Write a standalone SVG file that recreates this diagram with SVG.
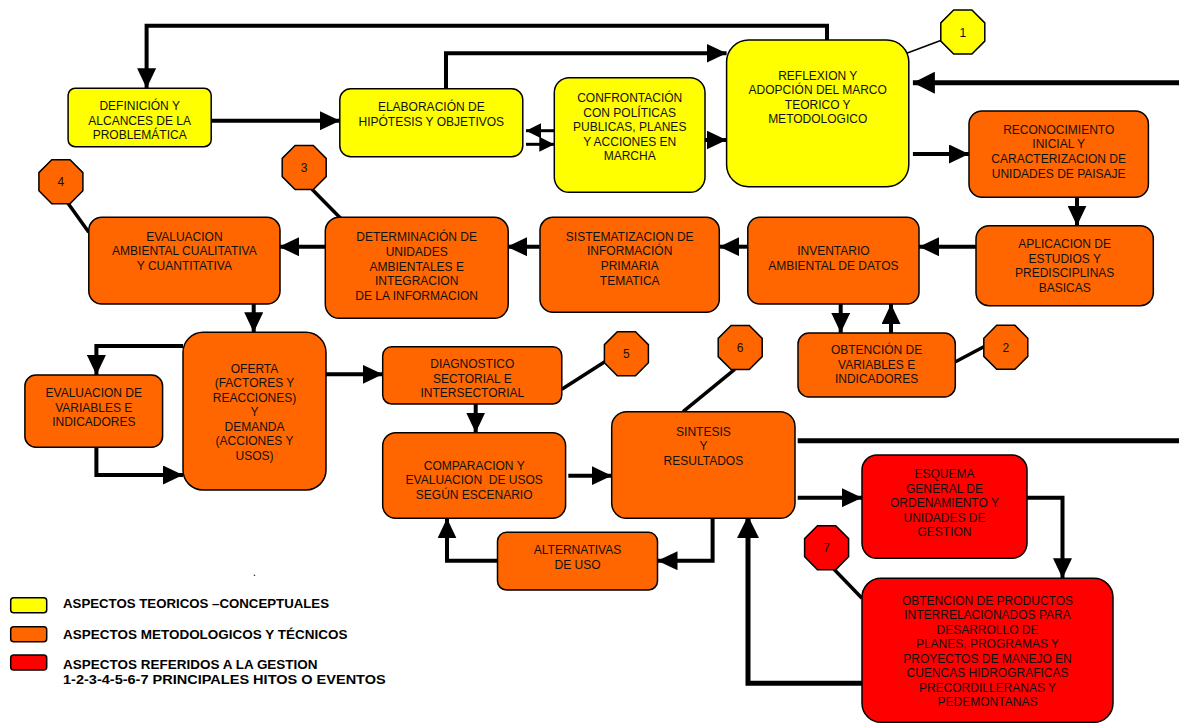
<svg xmlns="http://www.w3.org/2000/svg" width="1179" height="724" viewBox="0 0 1179 724">
<style>
.y{fill:#FFFF00;stroke:#000;stroke-width:1.5}
.o{fill:#FF6600;stroke:#000;stroke-width:1.5}
.r{fill:#FF0000;stroke:#000;stroke-width:1.5}
text{font-family:"Liberation Sans",Arial,sans-serif;font-size:12px;fill:#111;text-anchor:middle}
.lg{font-weight:bold;font-size:13.2px;text-anchor:start;fill:#000}
.num{font-size:12px}
.c{fill:none;stroke:#000;stroke-width:4}
.ct{fill:none;stroke:#000;stroke-width:5}
.cs{fill:none;stroke:#000;stroke-width:3}
.pin{fill:none;stroke:#000;stroke-width:3.5}
</style>
<defs>
<marker id="ah" markerUnits="userSpaceOnUse" markerWidth="20" markerHeight="19" refX="20" refY="9.5" orient="auto"><path d="M0,0 L20,9.5 L0,19 z" fill="#000"/></marker>
<marker id="ahb" markerUnits="userSpaceOnUse" markerWidth="22" markerHeight="22" refX="22" refY="11" orient="auto"><path d="M0,0 L22,11 L0,22 z" fill="#000"/></marker>
<marker id="ahs" markerUnits="userSpaceOnUse" markerWidth="15" markerHeight="15" refX="15" refY="7.5" orient="auto"><path d="M0,0 L15,7.5 L0,15 z" fill="#000"/></marker>
<polygon id="oct" points="-9.1,-22 9.1,-22 22,-9.1 22,9.1 9.1,22 -9.1,22 -22,9.1 -22,-9.1"/>
</defs>

<g id="connectors">
<path class="c" d="M827,40 V25.7 H146.6 V88.3" marker-end="url(#ah)"/>
<path class="c" d="M211,120.7 H340" marker-end="url(#ah)"/>
<path class="c" d="M446,88.7 V53.3 H726.6" marker-end="url(#ah)"/>
<path class="cs" d="M554.3,130.7 H526" marker-end="url(#ahs)"/>
<path class="cs" d="M526,144.3 H554.3" marker-end="url(#ahs)"/>
<path class="c" d="M705,140 H726.6" marker-end="url(#ah)"/>
<path class="ct" d="M1179,82.7 H912.9" marker-end="url(#ahb)"/>
<path class="c" d="M912.9,154 H969" marker-end="url(#ah)"/>
<path class="c" d="M1077,197.3 V225.7" marker-end="url(#ah)"/>
<path class="c" d="M976,246.7 H919" marker-end="url(#ah)"/>
<path class="c" d="M747.8,246.7 H719.3" marker-end="url(#ah)"/>
<path class="c" d="M539.6,246.7 H507" marker-end="url(#ah)"/>
<path class="c" d="M325.3,246.7 H279" marker-end="url(#ah)"/>
<path class="c" d="M253.7,304 V332.3" marker-end="url(#ah)"/>
<path class="c" d="M183,346 H96.4 V375" marker-end="url(#ah)"/>
<path class="c" d="M96.4,447.3 V475 H183" marker-end="url(#ah)"/>
<path class="c" d="M326,374.3 H382.7" marker-end="url(#ah)"/>
<path class="c" d="M475.7,404 V432.7" marker-end="url(#ah)"/>
<path class="c" d="M568.3,475.7 H611.7" marker-end="url(#ah)"/>
<path class="c" d="M840.7,304 V332.8" marker-end="url(#ah)"/>
<path class="c" d="M891,333.3 V304" marker-end="url(#ah)"/>
<path class="ct" d="M797.7,440.7 H1179"/>
<path class="c" d="M797.7,497.7 H862" marker-end="url(#ah)"/>
<path class="c" d="M1027,497.7 H1062.5 V578.3" marker-end="url(#ah)"/>
<path class="ct" d="M862,683.3 H748 V516" marker-end="url(#ahb)"/>
<path class="c" d="M712.6,518.3 V560.7 H657.5" marker-end="url(#ah)"/>
<path class="c" d="M497.5,560.7 H447 V518.3" marker-end="url(#ah)"/>
<path fill="none" stroke="#000" stroke-width="1.5" d="M942,40 L906.7,53.3"/>
<path class="pin" d="M983.8,346.7 L955.5,361.7"/>
<path class="pin" d="M312,189.3 L340.6,218.3"/>
<path class="pin" d="M68,203.3 L88.8,232.3"/>
<path class="pin" d="M604.8,361.7 L561.8,389.3"/>
<path class="pin" d="M734.7,369.3 L683.1,411.7"/>
<path class="pin" d="M834,569.3 L862,598.3"/>
</g>

<g id="definicion">
<rect class="y" x="68.1" y="88.3" width="143.1" height="58.4" rx="7"/>
<text x="139.7" y="110">DEFINICIÓN Y</text>
<text x="139.7" y="124.5">ALCANCES DE LA</text>
<text x="139.7" y="139">PROBLEMÁTICA</text>
</g>
<g id="elaboracion">
<rect class="y" x="339.8" y="88.7" width="183" height="68" rx="11"/>
<text x="431.3" y="111.2">ELABORACIÓN DE</text>
<text x="431.3" y="125.8">HIPÓTESIS Y OBJETIVOS</text>
</g>
<g id="confrontacion">
<rect class="y" x="554.3" y="77.7" width="150.7" height="114.6" rx="15"/>
<text x="629.7" y="101.8">CONFRONTACIÓN</text>
<text x="629.7" y="116.8">CON POLÍTICAS</text>
<text x="629.7" y="131.2">PUBLICAS, PLANES</text>
<text x="629.7" y="145.8">Y ACCIONES EN</text>
<text x="629.7" y="159.5">MARCHA</text>
</g>
<g id="reflexion">
<rect class="y" x="726.6" y="40" width="182.2" height="146.7" rx="22"/>
<text x="817.7" y="79.8">REFLEXION Y</text>
<text x="817.7" y="93.8">ADOPCIÓN DEL MARCO</text>
<text x="817.7" y="108.5">TEORICO Y</text>
<text x="817.7" y="123.2">METODOLOGICO</text>
</g>
<g id="hito1">
<use href="#oct" x="962.8" y="32" class="y"/>
<text class="num" x="962.8" y="36.5">1</text>
</g>
<g id="reconocimiento">
<rect class="o" x="969" y="111" width="179.4" height="86.3" rx="13"/>
<text x="1058.7" y="133.8">RECONOCIMIENTO</text>
<text x="1058.7" y="147.8">INICIAL Y</text>
<text x="1058.7" y="162.8">CARACTERIZACION DE</text>
<text x="1058.7" y="177.8">UNIDADES DE PAISAJE</text>
</g>
<g id="aplicacion">
<rect class="o" x="976" y="225.7" width="177.3" height="80" rx="13"/>
<text x="1064.7" y="247.8">APLICACION DE</text>
<text x="1064.7" y="262.8">ESTUDIOS Y</text>
<text x="1064.7" y="277.2">PREDISCIPLINAS</text>
<text x="1064.7" y="291.8">BASICAS</text>
</g>
<g id="inventario">
<rect class="o" x="747.8" y="217.3" width="171.2" height="86.7" rx="12"/>
<text x="833.4" y="254.5">INVENTARIO</text>
<text x="833.4" y="269.5">AMBIENTAL DE DATOS</text>
</g>
<g id="sistematizacion">
<rect class="o" x="540" y="217.3" width="179.3" height="95" rx="13"/>
<text x="629.7" y="241.2">SISTEMATIZACION DE</text>
<text x="629.7" y="255.2">INFORMACIÓN</text>
<text x="629.7" y="270.2">PRIMARIA</text>
<text x="629.7" y="284.5">TEMATICA</text>
</g>
<g id="determinacion">
<rect class="o" x="325.3" y="217.3" width="182.9" height="101" rx="14"/>
<text x="416.7" y="241.2">DETERMINACIÓN DE</text>
<text x="416.7" y="255.5">UNIDADES</text>
<text x="416.7" y="271.2">AMBIENTALES E</text>
<text x="416.7" y="285.2">INTEGRACION</text>
<text x="416.7" y="299.8">DE LA INFORMACION</text>
</g>
<g id="hito3">
<use href="#oct" x="304.2" y="167.5" class="o"/>
<text class="num" x="304.2" y="172">3</text>
</g>
<g id="evaluacion-ambiental">
<rect class="o" x="88.8" y="217.3" width="191.2" height="86.7" rx="13"/>
<text x="184.4" y="241.2">EVALUACION</text>
<text x="184.4" y="255.2">AMBIENTAL CUALITATIVA</text>
<text x="184.4" y="270.2">Y CUANTITATIVA</text>
</g>
<g id="hito4">
<use href="#oct" x="60.9" y="181.7" class="o"/>
<text class="num" x="60.9" y="186.2">4</text>
</g>
<g id="oferta">
<rect class="o" x="183" y="332.3" width="143" height="157.7" rx="20"/>
<text x="254.5" y="372.8">OFERTA</text>
<text x="254.5" y="386.8">(FACTORES Y</text>
<text x="254.5" y="401.8">REACCIONES)</text>
<text x="254.5" y="415.5">Y</text>
<text x="254.5" y="430.5">DEMANDA</text>
<text x="254.5" y="444.5">(ACCIONES Y</text>
<text x="254.5" y="459.5">USOS)</text>
</g>
<g id="evaluacion-variables">
<rect class="o" x="24.9" y="375" width="137.7" height="72.3" rx="11"/>
<text x="93.8" y="396.8">EVALUACION DE</text>
<text x="93.8" y="411.8">VARIABLES E</text>
<text x="93.8" y="425.8">INDICADORES</text>
</g>
<g id="diagnostico">
<rect class="o" x="382.7" y="346.7" width="179.1" height="57.3" rx="9"/>
<text x="472.3" y="367.8">DIAGNOSTICO</text>
<text x="472.3" y="382.8">SECTORIAL E</text>
<text x="472.3" y="396.8">INTERSECTORIAL</text>
</g>
<g id="hito5">
<use href="#oct" x="626.4" y="353.7" class="o"/>
<text class="num" x="626.4" y="358.2">5</text>
</g>
<g id="comparacion">
<rect class="o" x="382.7" y="432.7" width="182.9" height="85.6" rx="13"/>
<text x="474.2" y="470.2">COMPARACION Y</text>
<text x="474.2" y="483.8" xml:space="preserve">EVALUACION  DE USOS</text>
<text x="474.2" y="498.5">SEGÚN ESCENARIO</text>
</g>
<g id="alternativas">
<rect class="o" x="497.5" y="532.3" width="160" height="57.7" rx="9"/>
<text x="577.5" y="553.8">ALTERNATIVAS</text>
<text x="577.5" y="568.8">DE USO</text>
</g>
<g id="sintesis">
<rect class="o" x="611.7" y="411.7" width="183.3" height="106.6" rx="15"/>
<text x="703.4" y="435.5">SINTESIS</text>
<text x="703.4" y="450.2">Y</text>
<text x="703.4" y="464.5">RESULTADOS</text>
</g>
<g id="hito6">
<use href="#oct" x="740.2" y="347.5" class="o"/>
<text class="num" x="740.2" y="352">6</text>
</g>
<g id="obtencion-variables">
<rect class="o" x="798" y="333" width="157.3" height="64" rx="11"/>
<text x="876.6" y="353.8">OBTENCIÓN DE</text>
<text x="876.6" y="368.5">VARIABLES E</text>
<text x="876.6" y="382.8">INDICADORES</text>
</g>
<g id="hito2">
<use href="#oct" x="1005.8" y="347.3" class="o"/>
<text class="num" x="1005.8" y="351.8">2</text>
</g>
<g id="esquema">
<rect class="r" x="862" y="455" width="165" height="103.3" rx="15"/>
<text x="944.5" y="477.8">ESQUEMA</text>
<text x="944.5" y="492.8">GENERAL DE</text>
<text x="944.5" y="506.8">ORDENAMIENTO Y</text>
<text x="944.5" y="521.8">UNIDADES DE</text>
<text x="944.5" y="535.5">GESTION</text>
</g>
<g id="obtencion-productos">
<rect class="r" x="862" y="578.3" width="251" height="144" rx="19"/>
<text x="987.5" y="604.5">OBTENCION DE PRODUCTOS</text>
<text x="987.5" y="618.8">INTERRELACIONADOS PARA</text>
<text x="987.5" y="633.8">DESARROLLO DE</text>
<text x="987.5" y="647.8">PLANES, PROGRAMAS Y</text>
<text x="987.5" y="662.8">PROYECTOS DE MANEJO EN</text>
<text x="987.5" y="677.2">CUENCAS HIDROGRAFICAS</text>
<text x="987.5" y="691.8">PRECORDILLERANAS Y</text>
<text x="987.5" y="706.2">PEDEMONTANAS</text>
</g>
<g id="hito7">
<use href="#oct" x="826.6" y="547.7" class="r"/>
<text class="num" x="826.6" y="552.2">7</text>
</g>

<text x="254.5" y="576">.</text>

<g id="legend">
<rect class="y" x="10.7" y="597.7" width="36" height="15" rx="3"/>
<rect class="o" x="10.7" y="626.7" width="36" height="15" rx="3"/>
<rect class="r" x="10.7" y="655" width="36" height="15" rx="3"/>
<text class="lg" x="63" y="607.5" textLength="266" lengthAdjust="spacingAndGlyphs">ASPECTOS TEORICOS –CONCEPTUALES</text>
<text class="lg" x="63" y="639" textLength="284.5" lengthAdjust="spacingAndGlyphs">ASPECTOS METODOLOGICOS Y TÉCNICOS</text>
<text class="lg" x="63" y="669" textLength="254.6" lengthAdjust="spacingAndGlyphs">ASPECTOS REFERIDOS A LA GESTION</text>
<text class="lg" x="63" y="684" textLength="322.7" lengthAdjust="spacingAndGlyphs">1-2-3-4-5-6-7 PRINCIPALES HITOS O EVENTOS</text>
</g>
</svg>
